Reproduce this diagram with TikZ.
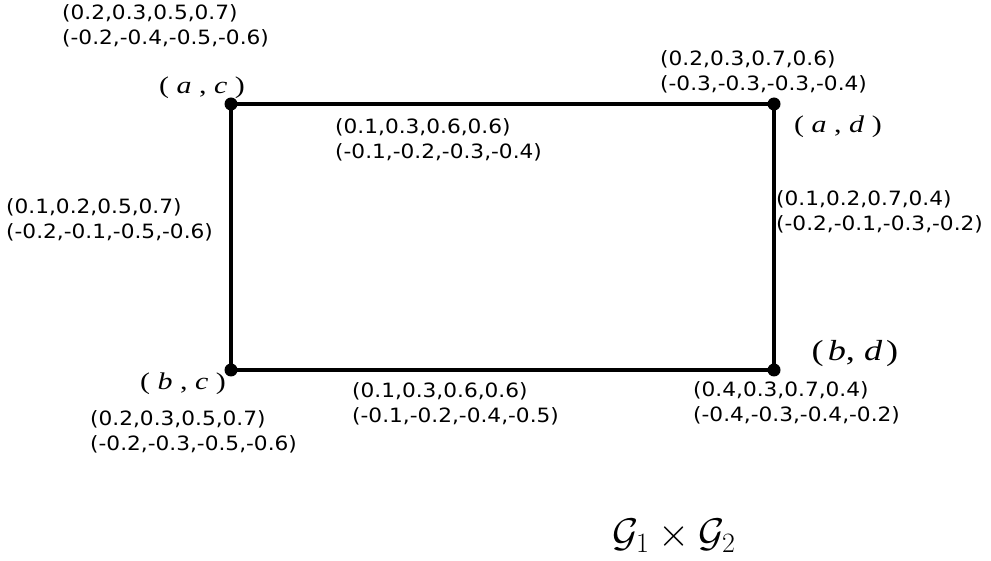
\RequirePackage{fix-cm}
\documentclass[tikz,border=0pt]{standalone}
\usepackage{fontspec}
\setmainfont{Liberation Serif}
\newfontfamily\lab[FakeStretch=1.1]{DejaVu Sans}
\newfontfamily\vfont[FakeStretch=1.25]{Liberation Serif}
\begin{document}
\begin{tikzpicture}[x=1pt,y=-1pt,
  val/.style={font=\lab\fontsize{19.7}{25}\selectfont,align=left,anchor=west,inner sep=0pt},
  vname/.style={font=\vfont\fontsize{24}{26}\selectfont,inner sep=0pt},
  dot/.style={circle,fill=black,inner sep=0pt,minimum size=13pt},
  edge/.style={line width=4.5pt}]
\useasboundingbox (0,0) rectangle (991,561);
\node[dot] (ac) at (231,104) {};
\node[dot] (ad) at (774,104) {};
\node[dot] (bc) at (231,370) {};
\node[dot] (bd) at (774,370) {};
\draw[edge] (ac.center) -- (ad.center) -- (bd.center) -- (bc.center) -- cycle;
% vertex names
\node[vname] (nac) at (202,88) {( \textit{a} , \textit{c} )};
\node[vname] (nad) at (838,127) {( \textit{a} , \textit{d} )};
\node[vname] (nbc) at (183,384) {( \textit{b} , \textit{c} )};
\node[vname,font=\vfont\fontsize{29}{30}\selectfont] (nbd) at (855,354) {(\hspace{4pt}\textit{b}, \textit{d}\hspace{4pt})};
% vertex values
\node[val] (vac) at (62,26) {(0.2,0.3,0.5,0.7)\\(-0.2,-0.4,-0.5,-0.6)};
\node[val] (vad) at (660,72) {(0.2,0.3,0.7,0.6)\\(-0.3,-0.3,-0.3,-0.4)};
\node[val] (vbc) at (90,432) {(0.2,0.3,0.5,0.7)\\(-0.2,-0.3,-0.5,-0.6)};
\node[val] (vbd) at (693,403) {(0.4,0.3,0.7,0.4)\\(-0.4,-0.3,-0.4,-0.2)};
% edge values
\node[val] (etop) at (335,140) {(0.1,0.3,0.6,0.6)\\(-0.1,-0.2,-0.3,-0.4)};
\node[val] (eleft) at (6,220) {(0.1,0.2,0.5,0.7)\\(-0.2,-0.1,-0.5,-0.6)};
\node[val] (eright) at (776,212) {(0.1,0.2,0.7,0.4)\\(-0.2,-0.1,-0.3,-0.2)};
\node[val] (ebot) at (352,404) {(0.1,0.3,0.6,0.6)\\(-0.1,-0.2,-0.4,-0.5)};
% title
\node[inner sep=0pt,font=\fontsize{40}{42}\selectfont] (title) at (674,536) {$\mathcal{G}_1\times\mathcal{G}_2$};
\end{tikzpicture}
\end{document}
